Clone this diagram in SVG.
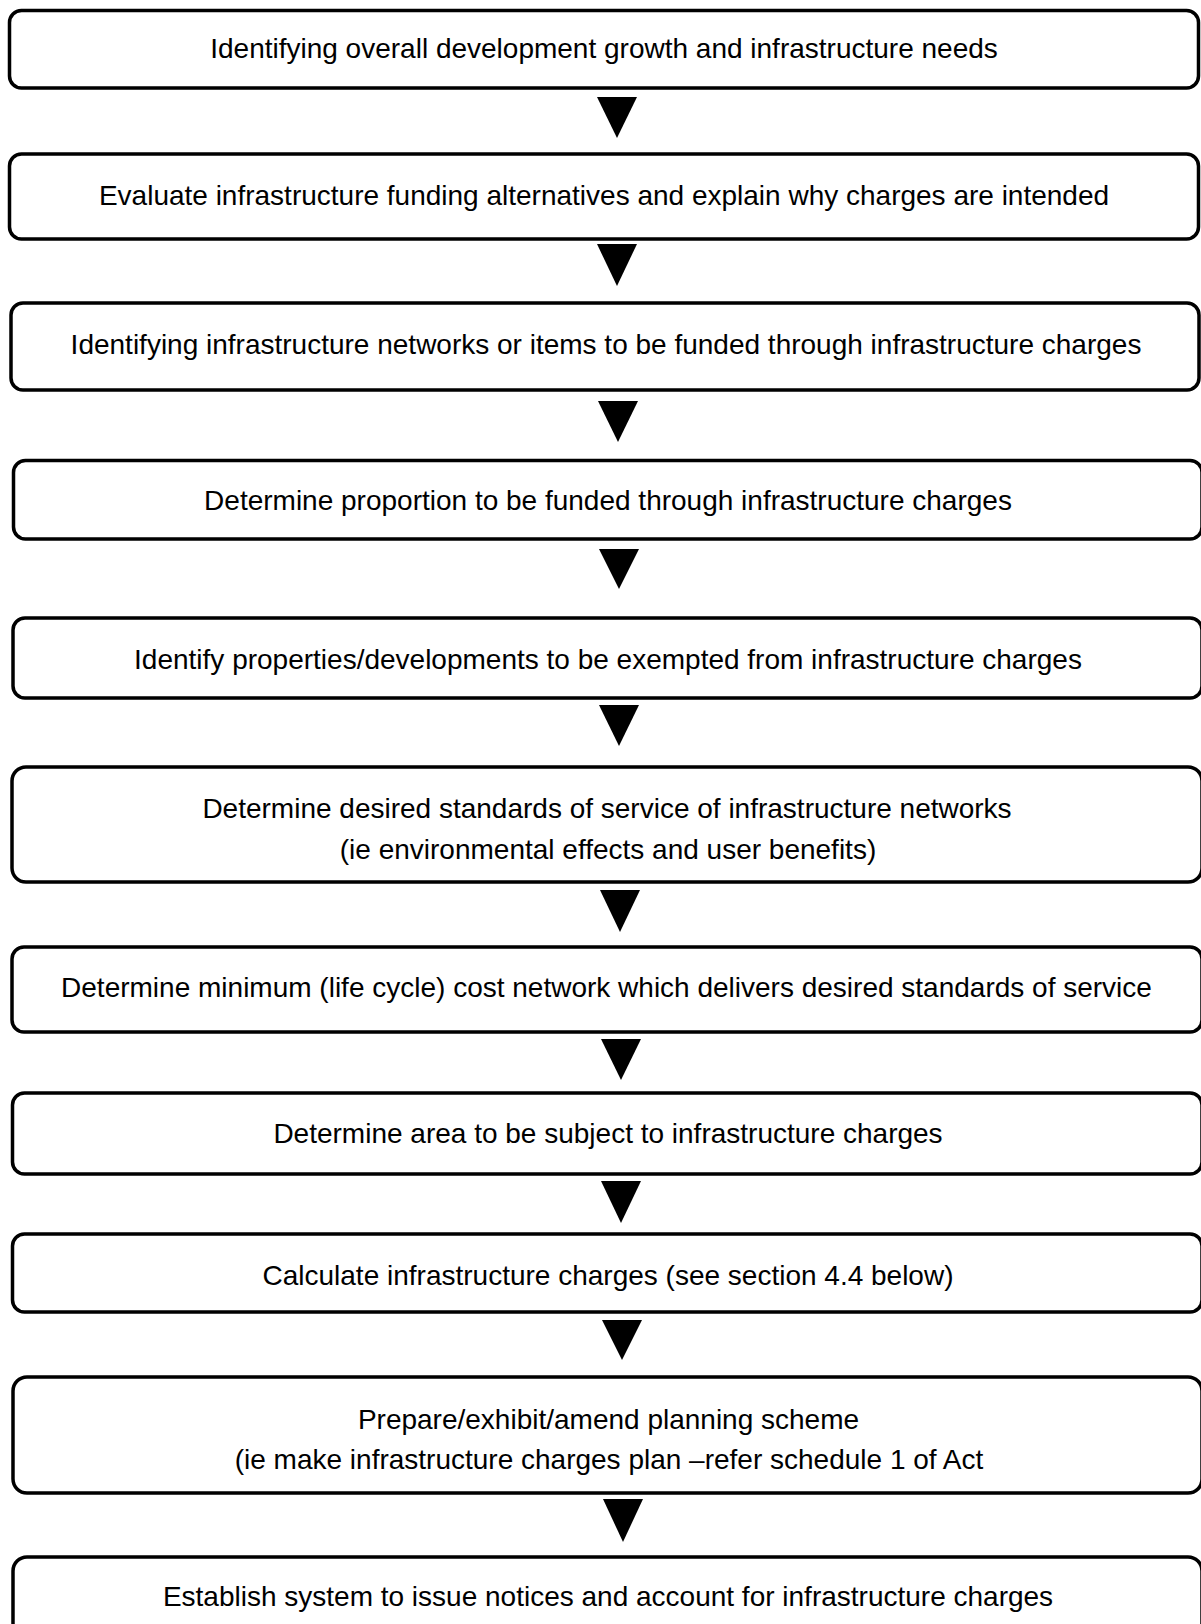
<svg xmlns="http://www.w3.org/2000/svg" width="1201" height="1624" viewBox="0 0 1201 1624">
<style>
.box{fill:#fff;stroke:#000;stroke-width:3.5}
.t{font-family:"Liberation Sans",Arial,sans-serif;font-size:28px;fill:#000;text-anchor:middle}
.arr{fill:#000}
</style>
<rect width="1201" height="1624" fill="#fff"/>
<g id="connectors">
<polygon class="arr" points="597,97 637,97 617,138"/>
<polygon class="arr" points="597,244 637,244 617,286"/>
<polygon class="arr" points="598,401 638,401 618,442"/>
<polygon class="arr" points="599,549 639,549 619,589"/>
<polygon class="arr" points="599,705 639,705 619,746"/>
<polygon class="arr" points="600,890 640,890 620,932"/>
<polygon class="arr" points="601,1039 641,1039 621,1080"/>
<polygon class="arr" points="601,1181 641,1181 621,1223"/>
<polygon class="arr" points="602,1320 642,1320 622,1360"/>
<polygon class="arr" points="603,1499 643,1499 623,1542"/>
</g>
<g id="n1"><rect class="box" x="9.5" y="10.5" width="1189" height="77.5" rx="12"/><text class="t" x="604" y="58">Identifying overall development growth and infrastructure needs</text></g>
<g id="n2"><rect class="box" x="9.5" y="154" width="1189" height="85" rx="12"/><text class="t" x="604" y="205">Evaluate infrastructure funding alternatives and explain why charges are intended</text></g>
<g id="n3"><rect class="box" x="11" y="303" width="1188" height="87" rx="12"/><text class="t" x="606" y="354">Identifying infrastructure networks or items to be funded through infrastructure charges</text></g>
<g id="n4"><rect class="box" x="13.5" y="460.5" width="1188.5" height="78.5" rx="12"/><text class="t" x="608" y="510">Determine proportion to be funded through infrastructure charges</text></g>
<g id="n5"><rect class="box" x="13" y="618" width="1189" height="80" rx="12"/><text class="t" x="608" y="669">Identify properties/developments to be exempted from infrastructure charges</text></g>
<g id="n6"><rect class="box" x="12" y="767" width="1190" height="115" rx="14"/><text class="t" x="607" y="818">Determine desired standards of service of infrastructure networks</text><text class="t" x="608" y="859">(ie environmental effects and user benefits)</text></g>
<g id="n7"><rect class="box" x="12" y="947" width="1190" height="85" rx="12"/><text class="t" x="606.5" y="997">Determine minimum (life cycle) cost network which delivers desired standards of service</text></g>
<g id="n8"><rect class="box" x="12.5" y="1093" width="1189.5" height="81" rx="12"/><text class="t" x="608" y="1143">Determine area to be subject to infrastructure charges</text></g>
<g id="n9"><rect class="box" x="12.5" y="1234" width="1189.5" height="78" rx="12"/><text class="t" x="608" y="1285">Calculate infrastructure charges (see section 4.4 below)</text></g>
<g id="n10"><rect class="box" x="13" y="1377" width="1189" height="116" rx="14"/><text class="t" x="608.5" y="1429">Prepare/exhibit/amend planning scheme</text><text class="t" x="609" y="1469">(ie make infrastructure charges plan –refer schedule 1 of Act</text></g>
<g id="n11"><rect class="box" x="13" y="1557" width="1189" height="80" rx="14"/><text class="t" x="608" y="1606">Establish system to issue notices and account for infrastructure charges</text></g>
</svg>
